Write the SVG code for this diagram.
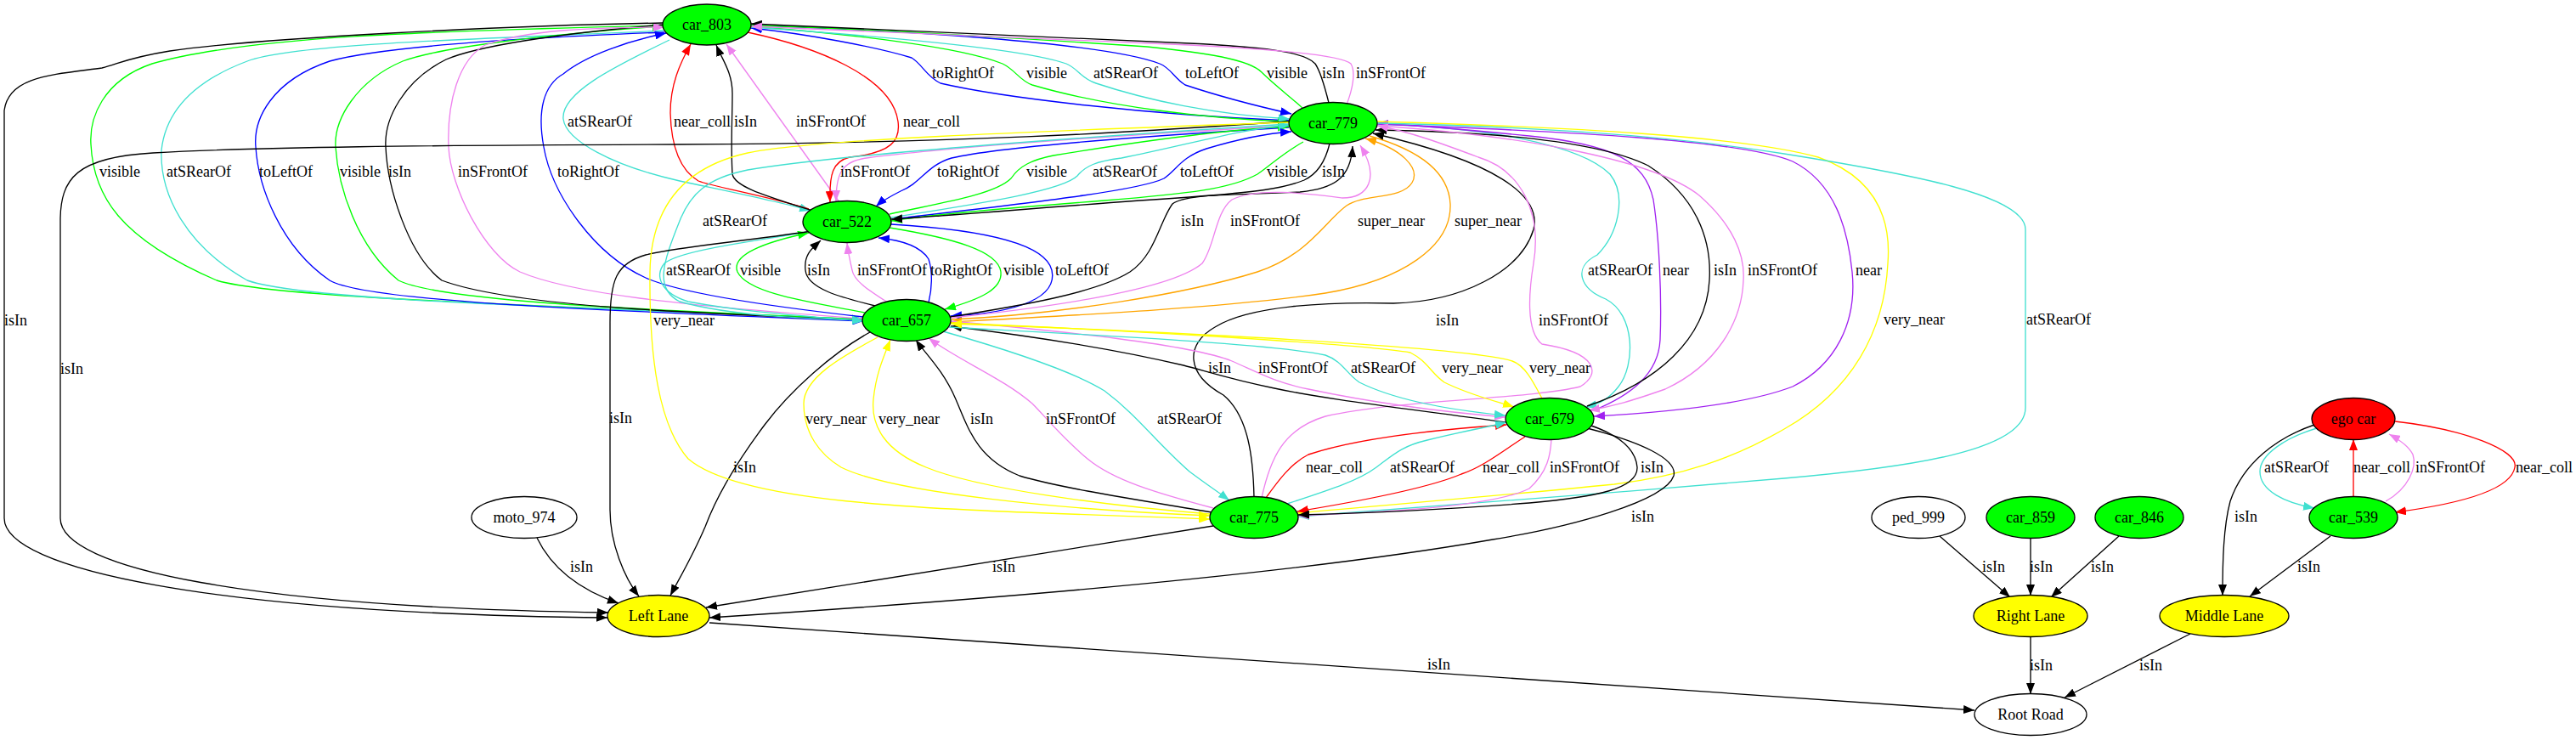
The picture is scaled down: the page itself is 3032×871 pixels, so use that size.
<svg xmlns="http://www.w3.org/2000/svg" width="3032" height="871" viewBox="0 0 3032 871">
<style>
.e{fill:none;stroke-width:1.33}
.k{stroke:#000;marker-end:url(#mk)}
.g{stroke:#00ff00;marker-end:url(#mg)}
.c{stroke:#40e0d0;marker-end:url(#mc)}
.b{stroke:#0000ff;marker-end:url(#mb)}
.v{stroke:#ee82ee;marker-end:url(#mv)}
.r{stroke:#ff0000;marker-end:url(#mr)}
.y{stroke:#ffff00;marker-end:url(#my)}
.o{stroke:#ffa500;marker-end:url(#mo)}
.p{stroke:#a020f0;marker-end:url(#mp)}
.n{stroke:#000;stroke-width:1.33}
.gr{fill:#00ff00}.yl{fill:#ffff00}.rd{fill:#ff0000}.wh{fill:#ffffff}
text{font-family:"Liberation Serif","Times New Roman",serif;font-size:18px;fill:#000}
.tm{text-anchor:middle}
</style>
<defs>
<marker id="mk" markerUnits="userSpaceOnUse" viewBox="0 0 13 10" markerWidth="13" markerHeight="10" refX="13" refY="5" orient="auto"><path d="M0,0L13,5L0,10z" fill="#000"/></marker>
<marker id="mg" markerUnits="userSpaceOnUse" viewBox="0 0 13 10" markerWidth="13" markerHeight="10" refX="13" refY="5" orient="auto"><path d="M0,0L13,5L0,10z" fill="#00ff00"/></marker>
<marker id="mc" markerUnits="userSpaceOnUse" viewBox="0 0 13 10" markerWidth="13" markerHeight="10" refX="13" refY="5" orient="auto"><path d="M0,0L13,5L0,10z" fill="#40e0d0"/></marker>
<marker id="mb" markerUnits="userSpaceOnUse" viewBox="0 0 13 10" markerWidth="13" markerHeight="10" refX="13" refY="5" orient="auto"><path d="M0,0L13,5L0,10z" fill="#0000ff"/></marker>
<marker id="mv" markerUnits="userSpaceOnUse" viewBox="0 0 13 10" markerWidth="13" markerHeight="10" refX="13" refY="5" orient="auto"><path d="M0,0L13,5L0,10z" fill="#ee82ee"/></marker>
<marker id="mr" markerUnits="userSpaceOnUse" viewBox="0 0 13 10" markerWidth="13" markerHeight="10" refX="13" refY="5" orient="auto"><path d="M0,0L13,5L0,10z" fill="#ff0000"/></marker>
<marker id="my" markerUnits="userSpaceOnUse" viewBox="0 0 13 10" markerWidth="13" markerHeight="10" refX="13" refY="5" orient="auto"><path d="M0,0L13,5L0,10z" fill="#ffff00"/></marker>
<marker id="mo" markerUnits="userSpaceOnUse" viewBox="0 0 13 10" markerWidth="13" markerHeight="10" refX="13" refY="5" orient="auto"><path d="M0,0L13,5L0,10z" fill="#ffa500"/></marker>
<marker id="mp" markerUnits="userSpaceOnUse" viewBox="0 0 13 10" markerWidth="13" markerHeight="10" refX="13" refY="5" orient="auto"><path d="M0,0L13,5L0,10z" fill="#a020f0"/></marker>
</defs>
<rect width="3032" height="871" fill="#ffffff"/>
<g id="edges">
<!-- car_803 <-> car_779 -->
<path class="e b" d="M1518,142 C1350,135 1180,115 1107,98 C1090,90 1085,75 1073,68 C1030,55 950,40 884,33"/>
<path class="e g" d="M884,31 C1000,40 1130,55 1180,75 C1195,82 1200,95 1215,100 C1300,125 1420,140 1517,143"/>
<path class="e c" d="M884,32 C1000,40 1200,55 1255,75 C1268,80 1272,92 1290,98 C1350,118 1430,135 1518,140"/>
<path class="e b" d="M885,30 C1050,35 1300,50 1365,75 C1378,80 1382,92 1395,100 C1440,115 1480,125 1520,134"/>
<path class="e g" d="M1533,127 C1520,115 1500,100 1485,85 C1470,70 1420,62 1350,55 C1200,45 1000,33 884,30"/>
<path class="e k" d="M1564,121 C1560,105 1555,85 1548,75 C1535,60 1480,55 1400,51 C1200,42 1000,33 884,28"/>
<path class="e v" d="M1585,123 C1592,105 1596,85 1590,75 C1580,65 1500,58 1400,53 C1200,43 1000,35 884,31"/>
<!-- car_803 <-> car_657 -->
<path class="e g" d="M781,30 C550,36 300,40 179,75 C120,95 105,140 107,170 C110,230 140,280 255,330 C320,350 600,358 1016,376"/>
<path class="e c" d="M781,36 C600,45 350,50 291,72 C230,95 195,130 190,177 C188,230 220,290 291,330 C360,355 700,362 1016,376"/>
<path class="e b" d="M782,38 C600,45 450,55 388,72 C320,95 298,140 301,173 C304,220 330,290 388,330 C430,355 700,365 1016,378"/>
<path class="e g" d="M1016,376 C750,364 520,355 469,330 C420,290 398,220 395,173 C393,140 420,95 474,72 C520,55 650,40 781,31"/>
<path class="e k" d="M781,29 C650,40 560,55 525,70 C475,95 452,140 454,173 C456,220 480,300 520,330 C600,360 800,368 1016,377"/>
<path class="e v" d="M1016,375 C800,360 670,345 612,320 C570,300 530,220 528,173 C526,120 540,70 571,53 C620,35 700,32 782,32"/>
<path class="e b" d="M1016,373 C900,360 800,345 760,327 C700,300 650,230 640,173 C632,130 640,100 663,87 C690,65 740,48 784,39"/>
<!-- car_803 <-> car_522 -->
<path class="e c" d="M788,47 C720,80 660,110 663,140 C666,165 720,195 800,213 C870,228 920,238 954,248"/>
<path class="e r" d="M952,246 C900,230 840,220 822,213 C800,200 790,170 789,133 C789,100 800,75 813,52"/>
<path class="e k" d="M956,248 C900,230 865,220 862,205 C860,170 862,140 862,110 C862,85 850,70 843,53"/>
<path class="e v" d="M988,238 L855,52"/>
<path class="e r" d="M880,38 C960,55 1050,90 1057,143 C1060,165 1050,180 1000,185 C980,190 976,205 977,238"/>
<!-- car_779 <-> car_522 -->
<path class="e v" d="M1517,148 C1300,160 1100,175 1020,186 C990,190 984,205 984,237"/>
<path class="e b" d="M1517,150 C1350,160 1180,172 1120,186 C1090,195 1085,215 1060,225 C1050,230 1040,235 1031,243"/>
<path class="e g" d="M1047,252 C1100,240 1170,230 1190,210 C1200,195 1215,188 1240,183 C1350,165 1450,152 1517,149"/>
<path class="e c" d="M1049,256 C1150,240 1250,225 1268,207 C1278,195 1290,190 1320,186 C1400,170 1460,152 1518,147"/>
<path class="e b" d="M1050,258 C1200,240 1340,225 1370,210 C1385,200 1390,185 1420,175 C1460,163 1490,157 1520,155"/>
<path class="e g" d="M1534,167 C1510,180 1495,195 1480,205 C1450,222 1400,228 1300,236 C1200,244 1100,252 1049,260"/>
<path class="e k" d="M1565,169 C1560,190 1550,205 1535,212 C1510,222 1480,226 1400,232 C1250,242 1120,254 1049,258"/>
<!-- car_522 <-> car_657 -->
<path class="e c" d="M950,273 C880,285 800,295 782,310 C770,325 778,345 810,355 C880,368 950,372 1016,378"/>
<path class="e g" d="M1018,368 C950,355 880,345 868,320 C860,300 900,285 952,274"/>
<path class="e k" d="M1030,360 C990,350 950,340 948,318 C946,300 955,293 966,283"/>
<path class="e v" d="M1045,356 C1020,340 1005,330 1003,318 C1000,305 998,295 997,286"/>
<path class="e b" d="M1093,356 C1097,340 1098,320 1093,305 C1085,292 1065,283 1034,280"/>
<path class="e g" d="M1047,268 C1120,280 1175,295 1178,320 C1180,340 1155,352 1112,364"/>
<path class="e b" d="M1049,264 C1150,270 1230,285 1238,318 C1245,350 1200,368 1119,372"/>
<!-- car_779 <-> car_657 -->
<path class="e c" d="M1516,146 C1300,160 1000,180 880,200 C830,210 812,230 800,260 C780,310 770,340 800,355 C860,372 950,375 1016,377"/>
<path class="e k" d="M1119,373 C1200,360 1290,345 1330,320 C1360,300 1365,260 1380,240 C1395,228 1450,230 1530,226 C1570,222 1590,210 1592,172"/>
<path class="e v" d="M1120,374 C1250,360 1380,340 1415,310 C1430,290 1430,250 1450,235 C1480,220 1540,228 1580,233 C1610,233 1625,210 1601,171"/>
<path class="e o" d="M1120,376 C1250,370 1400,345 1480,320 C1540,300 1560,260 1585,242 C1605,228 1650,235 1662,215 C1672,198 1650,175 1607,163"/>
<path class="e o" d="M1612,160 C1665,175 1705,200 1707,240 C1709,290 1650,330 1560,345 C1450,362 1250,372 1119,379"/>
<!-- car_779 <-> car_679 / car_775 -->
<path class="e c" d="M1621,146 C1750,150 1860,170 1895,205 C1915,230 1905,275 1880,300 C1850,315 1860,340 1890,352 C1925,370 1925,430 1905,455 C1895,468 1885,475 1866,479"/>
<path class="e p" d="M1876,483 C1920,465 1952,440 1954,400 C1956,350 1953,280 1946,235 C1936,190 1900,170 1800,160 C1720,152 1670,148 1621,145"/>
<path class="e k" d="M1868,478 C1950,450 2008,400 2012,330 C2015,280 1995,230 1940,195 C1880,165 1750,155 1619,153"/>
<path class="e v" d="M1621,148 C1800,160 1950,190 2000,230 C2040,265 2054,300 2052,330 C2050,380 2020,430 1960,458 C1920,472 1900,478 1870,483"/>
<path class="e p" d="M1621,146 C1850,155 2050,165 2110,190 C2160,215 2175,270 2180,320 C2186,380 2160,430 2110,455 C2050,478 1950,486 1876,490"/>
<path class="e y" d="M1621,143 C1850,150 2050,160 2140,185 C2210,210 2226,260 2222,310 C2218,390 2180,460 2100,505 C2040,540 1980,560 1900,570 C1750,585 1620,595 1527,604"/>
<path class="e c" d="M1621,145 C1850,150 2000,165 2100,181 C2250,205 2384,230 2384,270 L2384,480 C2384,530 2250,550 2100,563 C1900,580 1650,600 1528,608"/>
<path class="e k" d="M1476,585 C1475,540 1470,490 1440,465 C1395,440 1395,405 1430,385 C1470,360 1560,355 1640,357 C1720,355 1790,320 1805,270 C1815,230 1760,190 1616,157"/>
<path class="e v" d="M1485,586 C1495,540 1510,505 1560,490 C1650,470 1800,470 1860,455 C1885,440 1880,415 1815,405 C1795,390 1800,340 1805,310 C1815,250 1790,200 1740,185 C1700,170 1660,155 1621,148"/>
<!-- car_657 <-> car_679 -->
<path class="e k" d="M1772,497 C1650,480 1560,470 1500,457 C1450,447 1420,437 1393,430 C1330,415 1250,400 1119,384"/>
<path class="e v" d="M1119,378 C1250,390 1400,405 1450,425 C1480,438 1500,450 1540,458 C1620,475 1700,485 1772,491"/>
<path class="e c" d="M1117,385 C1300,395 1500,405 1560,418 C1580,425 1585,440 1600,450 C1640,470 1700,482 1772,489"/>
<path class="e y" d="M1119,380 C1350,390 1600,405 1660,415 C1680,425 1685,440 1700,450 C1730,465 1760,472 1782,479"/>
<path class="e y" d="M1815,469 C1805,450 1795,430 1780,425 C1740,412 1500,395 1119,381"/>
<!-- car_657 <-> car_775 -->
<path class="e y" d="M1033,397 C990,420 946,445 946,475 C946,510 965,535 990,550 C1050,580 1250,600 1424,607"/>
<path class="e y" d="M1424,605 C1300,595 1150,575 1090,550 C1040,530 1025,500 1028,470 C1031,440 1040,420 1048,400"/>
<path class="e k" d="M1426,603 C1350,590 1250,575 1200,560 C1150,540 1140,505 1125,470 C1110,435 1088,415 1078,400"/>
<path class="e v" d="M1428,598 C1360,580 1310,565 1280,540 C1250,515 1230,490 1215,475 C1180,445 1130,425 1093,398"/>
<path class="e c" d="M1110,390 C1180,410 1260,435 1300,460 C1340,490 1360,520 1400,555 C1420,570 1435,580 1447,589"/>
<!-- car_679 <-> car_775 -->
<path class="e r" d="M1490,586 C1505,565 1520,545 1540,535 C1600,515 1700,505 1773,500"/>
<path class="e c" d="M1515,593 C1570,575 1600,565 1620,550 C1640,535 1650,525 1680,518 C1720,508 1750,503 1773,497"/>
<path class="e r" d="M1795,514 C1770,530 1745,550 1720,558 C1680,575 1600,590 1527,602"/>
<path class="e v" d="M1826,517 C1825,535 1822,555 1800,575 C1760,595 1650,602 1528,607"/>
<path class="e k" d="M1870,500 C1900,510 1925,525 1927,550 C1928,575 1880,585 1800,592 C1700,600 1600,604 1528,606"/>
<!-- to Left Lane -->
<path class="e k" d="M1868,504 C1930,520 1975,540 1970,560 C1960,590 1850,620 1757,635 C1500,680 1100,710 835,727"/>
<path class="e k" d="M1428,619 L831,715"/>
<path class="e k" d="M1024,391 C980,415 930,460 900,500 C870,540 845,580 830,620 C815,655 800,680 789,701"/>
<path class="e k" d="M955,272 C870,285 800,290 760,300 C725,310 718,330 718,380 L718,600 C718,640 735,680 752,702"/>
<path class="e k" d="M632,633 C645,660 670,690 728,710"/>
<path class="e k" d="M780,27 C600,30 300,45 200,60 C150,68 140,75 120,80 C60,88 10,90 5,130 L5,610 C5,670 250,722 715,727"/>
<path class="e k" d="M1517,143 C1400,150 1200,168 800,170 C500,171 300,173 180,180 C90,185 71,210 71,260 L71,610 C71,670 300,715 716,721"/>
<path class="e y" d="M1517,144 C1200,155 950,165 880,180 C790,200 766,260 765,320 C764,420 775,500 810,540 C880,600 1150,600 1424,611"/>
<path class="e k" d="M835,733 L2324,836"/>
<!-- right cluster -->
<path class="e k" d="M2283,631 L2366,703"/>
<path class="e k" d="M2390,633 L2390,701"/>
<path class="e k" d="M2494,631 L2414,703"/>
<path class="e k" d="M2390,749 L2390,817"/>
<path class="e k" d="M2578,746 L2430,821"/>
<path class="e k" d="M2743,631 L2648,702"/>
<path class="e k" d="M2724,500 C2680,515 2640,545 2625,590 C2617,620 2616,660 2616,701"/>
<path class="e c" d="M2727,504 C2690,515 2660,535 2660,555 C2660,578 2690,592 2724,598"/>
<path class="e r" d="M2770,585 L2770,517"/>
<path class="e v" d="M2808,590 C2835,575 2845,550 2840,535 C2835,525 2825,518 2812,511"/>
<path class="e r" d="M2819,496 C2900,505 2965,530 2960,550 C2955,580 2880,595 2819,603"/>
</g>
<g id="edge-labels">
<text x="1097" y="92">toRightOf</text><text x="1208" y="92">visible</text><text x="1287" y="92">atSRearOf</text><text x="1395" y="92">toLeftOf</text><text x="1491" y="92">visible</text><text x="1556" y="92">isIn</text><text x="1596" y="92">inSFrontOf</text>
<text x="117" y="208">visible</text><text x="196" y="208">atSRearOf</text><text x="305" y="208">toLeftOf</text><text x="400" y="208">visible</text><text x="457" y="208">isIn</text><text x="539" y="208">inSFrontOf</text><text x="656" y="208">toRightOf</text>
<text x="668" y="149">atSRearOf</text><text x="793" y="149">near_coll</text><text x="864" y="149">isIn</text><text x="937" y="149">inSFrontOf</text><text x="1063" y="149">near_coll</text>
<text x="989" y="208">inSFrontOf</text><text x="1103" y="208">toRightOf</text><text x="1208" y="208">visible</text><text x="1286" y="208">atSRearOf</text><text x="1389" y="208">toLeftOf</text><text x="1491" y="208">visible</text><text x="1556" y="208">isIn</text>
<text x="784" y="324">atSRearOf</text><text x="871" y="324">visible</text><text x="950" y="324">isIn</text><text x="1009" y="324">inSFrontOf</text><text x="1095" y="324">toRightOf</text><text x="1181" y="324">visible</text><text x="1242" y="324">toLeftOf</text>
<text x="827" y="266">atSRearOf</text><text x="1390" y="266">isIn</text><text x="1448" y="266">inSFrontOf</text><text x="1598" y="266">super_near</text><text x="1712" y="266">super_near</text>
<text x="1869" y="324">atSRearOf</text><text x="1957" y="324">near</text><text x="2017" y="324">isIn</text><text x="2057" y="324">inSFrontOf</text><text x="2184" y="324">near</text>
<text x="2217" y="382">very_near</text><text x="2385" y="382">atSRearOf</text><text x="1690" y="383">isIn</text><text x="1811" y="383">inSFrontOf</text><text x="769" y="383">very_near</text><text x="5" y="383">isIn</text>
<text x="1422" y="439">isIn</text><text x="1481" y="439">inSFrontOf</text><text x="1590" y="439">atSRearOf</text><text x="1697" y="439">very_near</text><text x="1800" y="439">very_near</text><text x="71" y="440">isIn</text>
<text x="948" y="499">very_near</text><text x="1034" y="499">very_near</text><text x="1142" y="499">isIn</text><text x="1231" y="499">inSFrontOf</text><text x="1362" y="499">atSRearOf</text><text x="717" y="498">isIn</text>
<text x="1537" y="556">near_coll</text><text x="1636" y="556">atSRearOf</text><text x="1745" y="556">near_coll</text><text x="1824" y="556">inSFrontOf</text><text x="1931" y="556">isIn</text><text x="863" y="556">isIn</text>
<text x="2665" y="556">atSRearOf</text><text x="2770" y="556">near_coll</text><text x="2843" y="556">inSFrontOf</text><text x="2961" y="556">near_coll</text>
<text x="1920" y="614">isIn</text><text x="2630" y="614">isIn</text>
<text x="1168" y="673">isIn</text><text x="671" y="673">isIn</text><text x="2333" y="673">isIn</text><text x="2389" y="673">isIn</text><text x="2461" y="673">isIn</text><text x="2704" y="673">isIn</text>
<text x="1680" y="788">isIn</text><text x="2389" y="789">isIn</text><text x="2518" y="789">isIn</text>
</g>
<g id="node-car_803"><ellipse class="n gr" cx="832" cy="29" rx="52" ry="24"/><text class="tm" x="832" y="35">car_803</text></g>
<g id="node-car_779"><ellipse class="n gr" cx="1569" cy="145" rx="52" ry="24.5"/><text class="tm" x="1569" y="151">car_779</text></g>
<g id="node-car_522"><ellipse class="n gr" cx="997" cy="261" rx="52" ry="24.5"/><text class="tm" x="997" y="267">car_522</text></g>
<g id="node-car_657"><ellipse class="n gr" cx="1067" cy="377" rx="52" ry="24.5"/><text class="tm" x="1067" y="383">car_657</text></g>
<g id="node-car_679"><ellipse class="n gr" cx="1824" cy="493" rx="52" ry="24.5"/><text class="tm" x="1824" y="499">car_679</text></g>
<g id="node-ego_car"><ellipse class="n rd" cx="2770" cy="493" rx="49" ry="24.5"/><text class="tm" x="2770" y="499">ego car</text></g>
<g id="node-moto_974"><ellipse class="n wh" cx="617" cy="609" rx="62" ry="24.5"/><text class="tm" x="617" y="615">moto_974</text></g>
<g id="node-car_775"><ellipse class="n gr" cx="1476" cy="609" rx="52" ry="24.5"/><text class="tm" x="1476" y="615">car_775</text></g>
<g id="node-ped_999"><ellipse class="n wh" cx="2258" cy="609" rx="55" ry="24.5"/><text class="tm" x="2258" y="615">ped_999</text></g>
<g id="node-car_859"><ellipse class="n gr" cx="2390" cy="609" rx="52" ry="24.5"/><text class="tm" x="2390" y="615">car_859</text></g>
<g id="node-car_846"><ellipse class="n gr" cx="2518" cy="609" rx="52" ry="24.5"/><text class="tm" x="2518" y="615">car_846</text></g>
<g id="node-car_539"><ellipse class="n gr" cx="2770" cy="609" rx="52" ry="24.5"/><text class="tm" x="2770" y="615">car_539</text></g>
<g id="node-left_lane"><ellipse class="n yl" cx="775" cy="725" rx="60" ry="24.5"/><text class="tm" x="775" y="731">Left Lane</text></g>
<g id="node-right_lane"><ellipse class="n yl" cx="2390" cy="725" rx="67" ry="24.5"/><text class="tm" x="2390" y="731">Right Lane</text></g>
<g id="node-middle_lane"><ellipse class="n yl" cx="2618" cy="725" rx="76" ry="24.5"/><text class="tm" x="2618" y="731">Middle Lane</text></g>
<g id="node-root_road"><ellipse class="n wh" cx="2390" cy="841" rx="66" ry="24.5"/><text class="tm" x="2390" y="847">Root Road</text></g>
</svg>
